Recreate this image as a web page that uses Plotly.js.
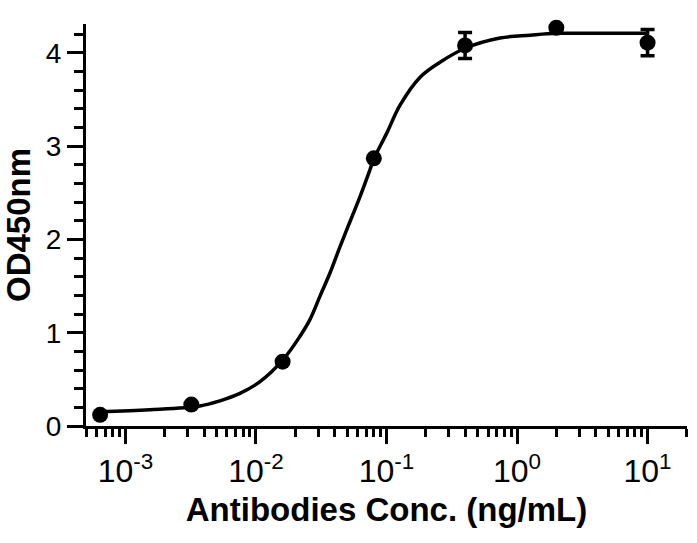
<!DOCTYPE html>
<html>
<head>
<meta charset="utf-8">
<script src="https://cdn.plot.ly/plotly-3.0.1.min.js"></script>
<style>html,body{margin:0;padding:0;background:#fff;}#chart{width:697px;height:543px;}</style>
</head>
<body>
<div id="chart"></div>
<script>
// Measured points (ng/mL vs OD450nm)
const conc = [0.00064, 0.0032, 0.016, 0.08, 0.4, 2, 10];
const od = [0.12, 0.23, 0.69, 2.87, 4.08, 4.27, 4.11];
const sd = [0, 0, 0, 0, 0.14, 0, 0.14];

// Fitted curve
const curveX = [0.000638, 0.00154, 0.00372, 0.0053, 0.00754, 0.01074, 0.0159, 0.0217, 0.0259, 0.0309, 0.0369, 0.044, 0.0525, 0.0627, 0.0748, 0.0798, 0.1005, 0.127, 0.181, 0.257, 0.40, 0.741, 1.26, 2.0, 4.32, 9.9];
const curveY = [0.155, 0.175, 0.215, 0.27, 0.35, 0.475, 0.70, 0.96, 1.14, 1.39, 1.64, 1.92, 2.19, 2.46, 2.75, 2.86, 3.14, 3.44, 3.74, 3.9, 4.05, 4.16, 4.19, 4.21, 4.21, 4.21];

// X tick labels
const xTickVals = [0.001, 0.01, 0.1, 1, 10];
const xTickText = ["10<sup>-3</sup>", "10<sup>-2</sup>", "10<sup>-1</sup>", "10<sup>0</sup>", "10<sup>1</sup>"];

const xTitle = "Antibodies Conc. (ng/mL)";
const yTitle = "OD450nm";

const font = "Liberation Sans, Arial, Helvetica, sans-serif";

// minor ticks at 2..9 x 10^n on the log axis
const xMinor = [];
for (let e = -4; e <= 1; e++) {
  for (let d = 2; d <= 9; d++) {
    const v = d * Math.pow(10, e);
    if (v >= 4.9e-4 && v <= 20.1) xMinor.push(v);
  }
}

const traces = [
  {
    x: curveX, y: curveY, type: "scatter", mode: "lines",
    line: {color: "#000", width: 3.5, shape: "spline", smoothing: 1},
    hoverinfo: "skip", cliponaxis: false
  },
  {
    x: conc, y: od, type: "scatter", mode: "markers",
    marker: {color: "#000", size: 16, symbol: "circle"},
    error_y: {type: "data", array: sd, visible: true, color: "#000", thickness: 3.5, width: 7},
    cliponaxis: false
  }
];

const layout = {
  width: 697, height: 543,
  margin: {l: 86, r: 10, t: 24, b: 117},
  paper_bgcolor: "#fff", plot_bgcolor: "#fff",
  showlegend: false,
  font: {family: font, color: "#000"},
  xaxis: {
    type: "log",
    range: [Math.log10(4.99e-4), Math.log10(20.05)],
    showgrid: false, zeroline: false,
    showline: true, linecolor: "#000", linewidth: 3,
    ticks: "outside", ticklen: 15, tickwidth: 3, tickcolor: "#000",
    tickmode: "array", tickvals: xTickVals, ticktext: xTickText,
    tickfont: {size: 32, family: font, color: "#000"},
    minor: {ticks: "outside", ticklen: 8, tickwidth: 3, tickcolor: "#000", tickmode: "array", tickvals: xMinor, showgrid: false},
    title: {text: xTitle, font: {size: 33, family: font, color: "#000", weight: "bold"}, standoff: 10}
  },
  yaxis: {
    range: [0, 4.31],
    showgrid: false, zeroline: false,
    showline: true, linecolor: "#000", linewidth: 3,
    ticks: "outside", ticklen: 16, tickwidth: 3, tickcolor: "#000",
    dtick: 1, tick0: 0,
    tickfont: {size: 28, family: font, color: "#000"},
    minor: {ticks: "outside", ticklen: 9, tickwidth: 3, tickcolor: "#000", dtick: 0.2, tick0: 0, showgrid: false},
    title: {text: yTitle, font: {size: 33, family: font, color: "#000", weight: "bold"}, standoff: 10}
  }
};

Plotly.newPlot("chart", traces, layout, {displayModeBar: false, staticPlot: true});
</script>
</body>
</html>
